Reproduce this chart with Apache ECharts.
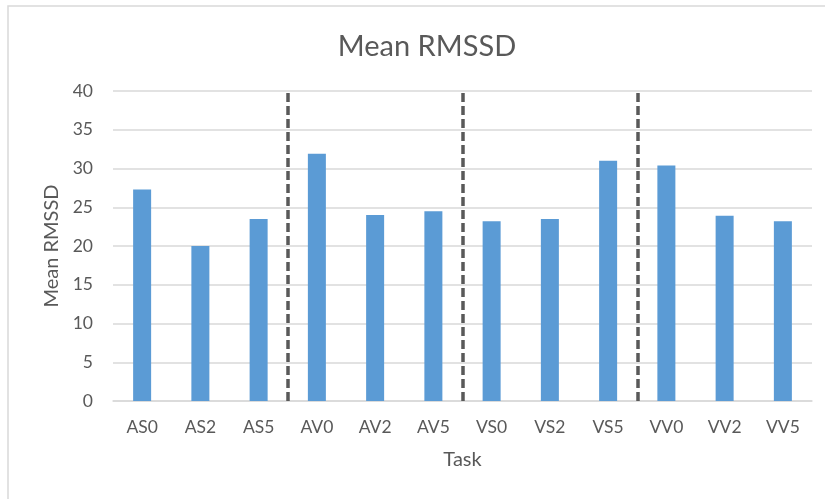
<!DOCTYPE html>
<html>
<head>
<meta charset="utf-8">
<script src="https://cdn.jsdelivr.net/npm/echarts@6/dist/echarts.min.js"></script>
<style>
  html, body { margin: 0; padding: 0; background: #fff; }
  #chart { width: 825px; height: 499px; }
</style>
</head>
<body>
<div id="chart"></div>
<script>
// Task conditions along the x axis
const tasks = ['AS0', 'AS2', 'AS5', 'AV0', 'AV2', 'AV5', 'VS0', 'VS2', 'VS5', 'VV0', 'VV2', 'VV5'];
// Mean RMSSD per task
const meanRmssd = [27.3, 20.0, 23.5, 31.9, 24.0, 24.5, 23.2, 23.5, 31.0, 30.4, 23.9, 23.2];
// Group boundaries (in category units) drawn as dashed separators
const groupBreaks = [3, 6, 9];
// Y axis range and step
const yMin = 0, yMax = 40, yStep = 5;

const FONT = 'Lato';
const GREY = '#595959';
const LINE = '#D9D9D9';

const chart = echarts.init(document.getElementById('chart'), null, { renderer: 'canvas' });

chart.setOption({
  animation: false,
  backgroundColor: '#fff',
  textStyle: { fontFamily: FONT },
  title: {
    text: 'Mean RMSSD',
    left: 422,
    textAlign: 'center',
    top: 27,
    textStyle: { fontFamily: FONT, fontSize: 29, fontWeight: 'normal', color: GREY }
  },
  graphic: [{
    type: 'rect',
    silent: true,
    z: -1,
    shape: { x: 8, y: 6, width: 900, height: 600 },
    style: { fill: 'none', stroke: LINE, lineWidth: 1.5 }
  }],
  grid: { left: 113, right: 13, top: 91, bottom: 98 },
  xAxis: [{
    type: 'category',
    data: tasks,
    name: 'Task',
    nameLocation: 'middle',
    nameGap: 49,
    nameTextStyle: { fontFamily: FONT, fontSize: 20, color: GREY },
    axisLine: { lineStyle: { color: LINE, width: 1.5 } },
    axisTick: { show: false },
    axisLabel: { fontFamily: FONT, fontSize: 17.5, color: GREY, margin: 17 },
    splitLine: { show: false }
  }, {
    type: 'value',
    min: 0,
    max: tasks.length,
    show: false
  }],
  yAxis: {
    type: 'value',
    min: yMin,
    max: yMax,
    interval: yStep,
    name: 'Mean RMSSD',
    nameLocation: 'middle',
    nameGap: 50,
    nameTextStyle: { fontFamily: FONT, fontSize: 20, color: GREY },
    axisLine: { show: false },
    axisTick: { show: false },
    axisLabel: { fontFamily: FONT, fontSize: 17.5, color: GREY, margin: 20 },
    splitLine: { lineStyle: { color: LINE, width: 1.5 } }
  },
  series: [{
    type: 'bar',
    xAxisIndex: 0,
    data: meanRmssd,
    barWidth: 18,
    itemStyle: { color: '#5B9BD5' }
  }, {
    type: 'line',
    xAxisIndex: 1,
    data: [],
    silent: true,
    markLine: {
      silent: true,
      symbol: 'none',
      label: { show: false },
      lineStyle: { color: GREY, width: 3.5, type: [9, 4] },
      data: groupBreaks.map(v => ({ xAxis: v }))
    }
  }]
});
</script>
</body>
</html>
